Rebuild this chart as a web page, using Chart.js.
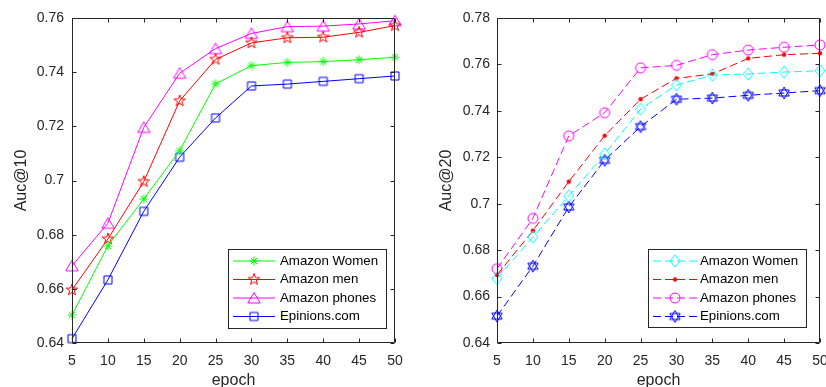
<!DOCTYPE html>
<html>
<head>
<meta charset="utf-8">
<script src="https://cdn.jsdelivr.net/npm/chart.js@4.4.1/dist/chart.umd.min.js"></script>
<style>
  html, body { margin: 0; padding: 0; background: #fff; }
  body { width: 826px; height: 387px; position: relative; overflow: hidden; }
  .panel { position: absolute; top: 0; width: 413px; height: 389px; }
  #left { left: 0; }
  #right { left: 413px; }
</style>
</head>
<body>
<div class="panel" id="left"><canvas id="auc10" width="413" height="389"></canvas></div>
<div class="panel" id="right"><canvas id="auc20" width="413" height="389"></canvas></div>
<script>
// data
const epochs = [5, 10, 15, 20, 25, 30, 35, 40, 45, 50];
const seriesNames = ['Amazon Women', 'Amazon men', 'Amazon phones', 'Epinions.com'];

const auc10Women    = [0.6503, 0.6759, 0.6932, 0.7110, 0.7357, 0.7424, 0.7436, 0.7439, 0.7446, 0.7455];
const auc10Men      = [0.6596, 0.6784, 0.6996, 0.7294, 0.7447, 0.7508, 0.7527, 0.7529, 0.7547, 0.7572];
const auc10Phones   = [0.6685, 0.6842, 0.7196, 0.7396, 0.7487, 0.7543, 0.7568, 0.7570, 0.7578, 0.7590];
const auc10Epinions = [0.6416, 0.6633, 0.6886, 0.7086, 0.7231, 0.7349, 0.7356, 0.7366, 0.7376, 0.7386];

const auc20Women    = [0.6678, 0.6856, 0.7034, 0.7214, 0.7407, 0.7511, 0.7554, 0.7559, 0.7567, 0.7573];
const auc20Men      = [0.6693, 0.6884, 0.7095, 0.7293, 0.7450, 0.7540, 0.7559, 0.7626, 0.7642, 0.7648];
const auc20Phones   = [0.6720, 0.6937, 0.7292, 0.7392, 0.7585, 0.7596, 0.7642, 0.7662, 0.7674, 0.7684];
const auc20Epinions = [0.6516, 0.6731, 0.6986, 0.7187, 0.7332, 0.7450, 0.7455, 0.7467, 0.7477, 0.7487];

const auc10Ticks = [0.64, 0.66, 0.68, 0.70, 0.72, 0.74, 0.76];
const auc20Ticks = [0.64, 0.66, 0.68, 0.70, 0.72, 0.74, 0.76, 0.78];

const TXT = '#262626';
const FONT = '"Liberation Sans", Arial, Helvetica, sans-serif';

// matlab-ish hollow markers drawn once onto small canvases
function marker(kind, color) {
  const c = document.createElement('canvas');
  c.width = 18; c.height = 18;
  const g = c.getContext('2d');
  g.translate(9, 9);
  g.strokeStyle = color; g.fillStyle = color; g.lineWidth = 1;
  g.beginPath();
  const star = (n, R, r) => {
    for (let i = 0; i < 2 * n; i++) {
      const a = -Math.PI / 2 + i * Math.PI / n;
      const rad = i % 2 ? r : R;
      if (i === 0) g.moveTo(Math.cos(a) * rad, Math.sin(a) * rad);
      else g.lineTo(Math.cos(a) * rad, Math.sin(a) * rad);
    }
    g.closePath();
  };
  switch (kind) {
    case 'asterisk':
      [0, 45, 90, 135].forEach(d => {
        const a = d * Math.PI / 180;
        g.moveTo(Math.cos(a) * 4.5, Math.sin(a) * 4.5);
        g.lineTo(-Math.cos(a) * 4.5, -Math.sin(a) * 4.5);
      });
      break;
    case 'pentagram': star(5, 6, 2.4); break;
    case 'triangle':
      g.moveTo(0, -5.5); g.lineTo(6.2, 5); g.lineTo(-6.2, 5); g.closePath();
      break;
    case 'square': g.rect(-4, -4, 8, 8); break;
    case 'diamond':
      g.moveTo(0, -6); g.lineTo(5, 0); g.lineTo(0, 6); g.lineTo(-5, 0); g.closePath();
      break;
    case 'circle': g.arc(0, 0, 5, 0, Math.PI * 2); break;
    case 'dot': g.arc(0, 0, 1.8, 0, Math.PI * 2); g.fill(); break;
    case 'hexagram':
      for (let t = 0; t < 2; t++) {
        for (let i = 0; i < 3; i++) {
          const a = (t ? Math.PI / 2 : -Math.PI / 2) + i * 2 * Math.PI / 3;
          if (i === 0) g.moveTo(Math.cos(a) * 6, Math.sin(a) * 6);
          else g.lineTo(Math.cos(a) * 6, Math.sin(a) * 6);
        }
        g.closePath();
      }
      break;
  }
  g.stroke();
  return c;
}

function series(label, values, color, kind, dash) {
  return {
    label,
    data: epochs.map((e, i) => ({ x: e, y: values[i] })),
    borderColor: color,
    backgroundColor: color,
    borderWidth: 1,
    borderDash: dash || [],
    pointStyle: marker(kind, color),
    pointRadius: 5,
    tension: 0,
    clip: false
  };
}

// box around the plot + inward ticks on all four sides
const boxTicks = {
  id: 'boxTicks',
  afterDatasetsDraw(chart) {
    const { ctx, chartArea: a, scales } = chart;
    const L = Math.round(a.left) + 0.5, R = Math.round(a.right) - 0.5;
    const T = Math.round(a.top) + 0.5, B = Math.round(a.bottom) - 0.5;
    ctx.save();
    ctx.strokeStyle = TXT; ctx.lineWidth = 1;
    ctx.beginPath();
    ctx.rect(L, T, R - L, B - T);
    scales.x.ticks.forEach(t => {
      const x = Math.round(scales.x.getPixelForValue(t.value)) + 0.5;
      ctx.moveTo(x, B); ctx.lineTo(x, B - 4);
      ctx.moveTo(x, T); ctx.lineTo(x, T + 4);
    });
    scales.y.ticks.forEach(t => {
      const y = Math.round(scales.y.getPixelForValue(t.value)) + 0.5;
      ctx.moveTo(L, y); ctx.lineTo(L + 4, y);
      ctx.moveTo(R, y); ctx.lineTo(R - 4, y);
    });
    ctx.stroke();
    ctx.restore();
  }
};

// legend with line + marker sample, like matlab
const legendBox = {
  id: 'legendBox',
  afterDraw(chart, args, o) {
    const ctx = chart.ctx;
    ctx.save();
    ctx.fillStyle = '#fff';
    ctx.fillRect(o.x, o.y, o.w, o.h);
    ctx.strokeStyle = TXT; ctx.lineWidth = 1;
    ctx.strokeRect(o.x + 0.5, o.y + 0.5, o.w, o.h);
    chart.data.datasets.forEach((ds, i) => {
      const y = o.rows[i];
      ctx.strokeStyle = ds.borderColor;
      ctx.setLineDash(ds.borderDash);
      ctx.beginPath();
      ctx.moveTo(o.line[0], y); ctx.lineTo(o.line[1], y);
      ctx.stroke();
      ctx.setLineDash([]);
      const m = ds.pointStyle;
      ctx.drawImage(m, (o.line[0] + o.line[1]) / 2 - m.width / 2, y - m.height / 2);
      ctx.fillStyle = '#000';
      ctx.font = '13.3px ' + FONT;
      ctx.textBaseline = 'middle';
      ctx.fillText(ds.label, o.textX, y);
    });
    ctx.restore();
  }
};

function makeChart(id, datasets, cfg) {
  return new Chart(document.getElementById(id), {
    type: 'line',
    data: { datasets },
    plugins: [boxTicks, legendBox],
    options: {
      responsive: false,
      animation: false,
      layout: { padding: { left: 0, top: 18, right: cfg.padRight, bottom: 0 } },
      plugins: { legend: { display: false }, tooltip: { enabled: false }, legendBox: cfg.legend },
      scales: {
        x: {
          type: 'linear', min: 5, max: 50,
          afterBuildTicks: s => { s.ticks = epochs.map(v => ({ value: v })); },
          afterFit: s => { s.height = 46; s.paddingLeft = 0; s.paddingRight = 0; },
          grid: { display: false, drawTicks: false },
          border: { display: false },
          ticks: { color: TXT, font: { family: FONT, size: 14 }, padding: 10, maxRotation: 0, autoSkip: false },
          title: { display: true, text: 'epoch', color: TXT, font: { family: FONT, size: 16, lineHeight: 1 }, padding: { top: 0, bottom: 0 } }
        },
        y: {
          min: cfg.yTicks[0], max: cfg.yTicks[cfg.yTicks.length - 1],
          afterBuildTicks: s => { s.ticks = cfg.yTicks.map(v => ({ value: v })); },
          afterFit: s => { s.width = cfg.yWidth; s.paddingTop = 0; s.paddingBottom = 0; },
          grid: { display: false, drawTicks: false },
          border: { display: false },
          ticks: { color: TXT, font: { family: FONT, size: 14 }, padding: cfg.tickPad, callback: v => String(Math.round(v * 100) / 100) },
          title: { display: true, text: cfg.yTitle, color: TXT, font: { family: FONT, size: 16, lineHeight: 1 }, padding: { top: cfg.titlePad, bottom: 0 } }
        }
      }
    }
  });
}

makeChart('auc10', [
  series(seriesNames[0], auc10Women, '#00ff00', 'asterisk'),
  series(seriesNames[1], auc10Men, '#ff0000', 'pentagram'),
  series(seriesNames[2], auc10Phones, '#ff00ff', 'triangle'),
  series(seriesNames[3], auc10Epinions, '#0000ff', 'square')
], {
  yTicks: auc10Ticks, yTitle: 'Auc@10', yWidth: 72, padRight: 18, tickPad: 8, titlePad: 13.5,
  legend: { x: 228, y: 249, w: 158, h: 79, rows: [261, 279.5, 298, 316.5], line: [233, 275], textX: 280 }
});

makeChart('auc20', [
  series(seriesNames[0], auc20Women, '#00ffff', 'diamond', [8, 4]),
  series(seriesNames[1], auc20Men, '#ff0000', 'dot', [8, 4]),
  series(seriesNames[2], auc20Phones, '#ff00ff', 'circle', [8, 4]),
  series(seriesNames[3], auc20Epinions, '#0000ff', 'hexagram', [8, 4])
], {
  yTicks: auc20Ticks, yTitle: 'Auc@20', yWidth: 84, padRight: 5, tickPad: 7, titlePad: 26,
  legend: { x: 235, y: 249, w: 158, h: 78, rows: [261, 279.5, 298, 316.5], line: [240, 284], textX: 287 }
});
</script>
</body>
</html>
